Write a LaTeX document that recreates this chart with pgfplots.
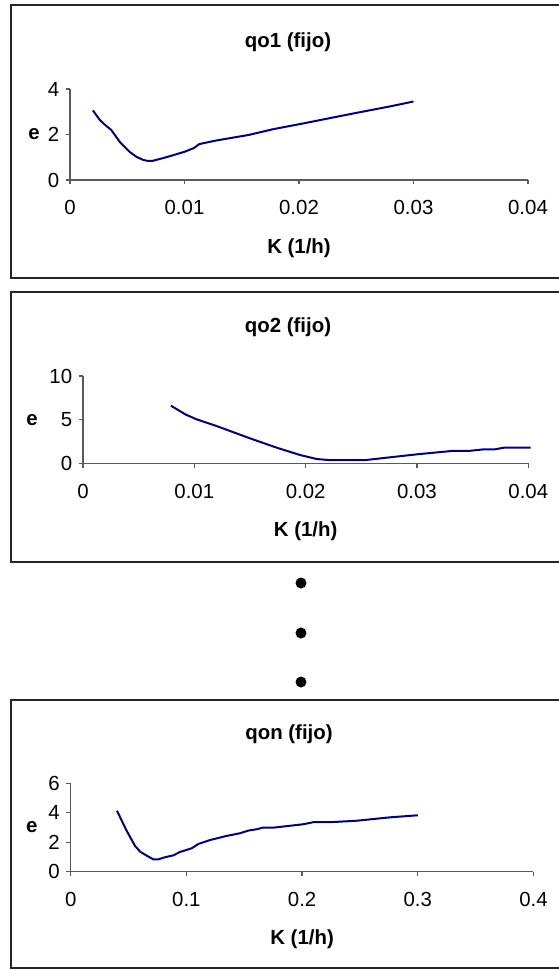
\documentclass[border=0pt]{standalone}
\usepackage{pgfplots}
\pgfplotsset{compat=1.18}
\usepackage{fontspec}
\setmainfont{Liberation Sans}
\definecolor{linea}{RGB}{0,0,128}
\definecolor{ejes}{RGB}{90,90,90}

\pgfplotsset{
  panel/.style={
    scale only axis, clip=false,
    axis x line*=bottom, axis y line*=left,
    axis line style={-, ejes, line width=0.6pt},
    every tick/.style={ejes, line width=0.6pt},
    tick align=outside, major tick length=2.2pt,
    xtick pos=bottom, ytick pos=left,
    enlargelimits=false, scaled ticks=false,
    /pgf/number format/assume math mode=true,
    font=\fontsize{10.2}{12}\selectfont,
    xticklabel style={yshift=-4.5pt},
    yticklabel style={xshift=0.3pt},
    xlabel={\textbf{K (1/h)}},
    ylabel={\textbf{e}},
    every axis x label/.style={at={(rel axis cs:0.5,0)}, anchor=center, yshift=-34pt},
  },
}

\begin{document}
\begin{tikzpicture}
\useasboundingbox (0,0) rectangle (279pt,-485pt);

% recuadros
\draw[line width=1pt, black!85] (5.5pt,-2.5pt) rectangle (330pt,-139pt);
\draw[line width=1pt, black!85] (5.5pt,-146pt) rectangle (330pt,-281pt);
\draw[line width=1pt, black!85] (5.5pt,-350pt) rectangle (330pt,-484pt);

% titulos
\node[font=\fontsize{10.2}{12}\selectfont\bfseries] at (144pt,-21pt) {qo1 (fijo)};
\node[font=\fontsize{10.2}{12}\selectfont\bfseries] at (144pt,-163.5pt) {qo2 (fijo)};
\node[font=\fontsize{10.2}{12}\selectfont\bfseries] at (144.5pt,-367pt) {qon (fijo)};

% puntos suspensivos
\fill (150.5pt,-291.5pt) circle (2.75pt);
\fill (150.5pt,-316.5pt) circle (2.75pt);
\fill (150.5pt,-341pt) circle (2.75pt);

% qo1
\begin{axis}[panel,
  at={(35pt,-90pt)}, anchor=south west,
  width=229pt, height=45.5pt,
  xmin=0, xmax=0.04, ymin=0, ymax=4,
  xtick={0,0.01,0.02,0.03,0.04}, xticklabels={0,0.01,0.02,0.03,0.04},
  ytick={0,2,4},
  every axis y label/.style={at={(rel axis cs:0,0.5)}, anchor=center, xshift=-18pt},
]
\addplot[linea, line width=1pt] coordinates {
(0.0020,3.06) (0.0026,2.64) (0.0030,2.45) (0.0036,2.20) (0.0044,1.64)
(0.0052,1.24) (0.0058,1.02) (0.0064,0.88) (0.0068,0.84) (0.0072,0.84)
(0.0084,1.00) (0.0100,1.24) (0.0108,1.40) (0.0113,1.58) (0.0127,1.73)
(0.0156,1.98) (0.0178,2.24) (0.0201,2.46) (0.0249,2.94) (0.0280,3.24)
(0.0300,3.45)
};
\end{axis}

% qo2
\begin{axis}[panel,
  at={(41.5pt,-231.65pt)}, anchor=south west,
  width=222.65pt, height=43.65pt,
  xmin=0, xmax=0.04, ymin=0, ymax=10,
  xtick={0,0.01,0.02,0.03,0.04}, xticklabels={0,0.01,0.02,0.03,0.04},
  ytick={0,5,10},
  every axis y label/.style={at={(rel axis cs:0,0.5)}, anchor=center, xshift=-25.5pt},
]
\addplot[linea, line width=1pt] coordinates {
(0.0079,6.60) (0.0092,5.60) (0.0102,5.04) (0.0120,4.27) (0.0150,2.86)
(0.0174,1.79) (0.0195,0.95) (0.0210,0.49) (0.0222,0.36) (0.0253,0.36)
(0.0276,0.69) (0.0300,1.03) (0.0331,1.41) (0.0346,1.41) (0.0360,1.60)
(0.0370,1.60) (0.0378,1.79) (0.0402,1.79)
};
\end{axis}

% qon
\begin{axis}[panel,
  at={(35.35pt,-435.85pt)}, anchor=south west,
  width=231.4pt, height=44.2pt,
  xmin=0, xmax=0.4, ymin=0, ymax=6,
  xtick={0,0.1,0.2,0.3,0.4}, xticklabels={0,0.1,0.2,0.3,0.4},
  ytick={0,2,4,6},
  every axis y label/.style={at={(rel axis cs:0,0.5)}, anchor=center, xshift=-19.4pt},
]
\addplot[linea, line width=1pt] coordinates {
(0.0400,4.14) (0.0480,2.83) (0.0556,1.75) (0.0600,1.36) (0.0657,1.09)
(0.0714,0.84) (0.0757,0.84) (0.0815,0.98) (0.0887,1.11) (0.0945,1.34)
(0.1046,1.59) (0.1103,1.88) (0.1204,2.15) (0.1348,2.43) (0.1463,2.61)
(0.1535,2.79) (0.1564,2.83) (0.1608,2.88) (0.1659,2.99) (0.1751,2.99)
(0.2010,3.22) (0.2097,3.36) (0.2241,3.36) (0.2472,3.46) (0.2760,3.69)
(0.3000,3.83)
};
\end{axis}
\end{tikzpicture}
\end{document}
